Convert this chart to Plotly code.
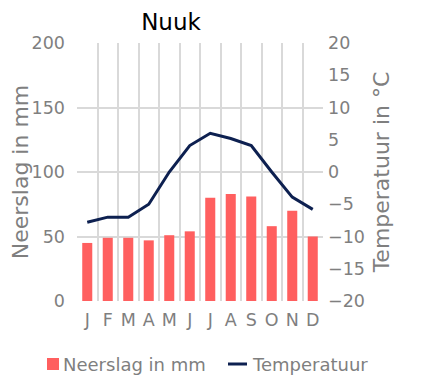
import plotly.graph_objects as go

months = ["J", "F", "M", "A", "M", "J", "J", "A", "S", "O", "N", "D"]
precip = [45, 49, 49, 47, 51, 54, 80, 83, 81, 58, 70, 50]
temp = [-7.8, -7.0, -7.0, -5.0, 0.0, 4.1, 6.0, 5.2, 4.1, 0.0, -3.9, -5.8]
left_ticks = [0, 50, 100, 150, 200]
right_ticks = [-20, -15, -10, -5, 0, 5, 10, 15, 20]
series_names = ["Neerslag in mm", "Temperatuur"]

BAR_COLOR = "#ff5f5f"
LINE_COLOR = "#0d2050"

pos = list(range(1, len(months) + 1))
bounds = [p + 0.5 for p in pos[:-1]]

FONT = "DejaVu Sans"
GRAY = "#7f7f7f"
GRID = "#d9d9d9"

# page offset (default body margin) and figure size
OFF = 8
FW, FH = 432 - OFF, 390 - OFF

# plot area in screen pixels
L, R, T, B = 77, 323, 43, 301
W, H = R - L, B - T


def px(x):
    return (x - L) / W


def py(y):
    return (B - y) / H


fig = go.Figure()
fig.add_trace(go.Bar(x=pos, y=precip, name=series_names[0],
                     marker=dict(color=BAR_COLOR, line=dict(width=0)),
                     width=0.49, yaxis="y", showlegend=False))
fig.add_trace(go.Scatter(x=pos, y=temp, name=series_names[1], mode="lines",
                         line=dict(color=LINE_COLOR, width=3), yaxis="y2",
                         showlegend=False))

legend_y = 364
shapes = [
    dict(type="rect", xref="paper", yref="paper",
         x0=px(427), x1=1.6, y0=-0.5, y1=1.3,
         fillcolor="#f1f1f1", line=dict(width=0), layer="below"),
    dict(type="rect", xref="paper", yref="paper",
         x0=px(47), x1=px(59), y0=py(legend_y + 6), y1=py(legend_y - 6),
         fillcolor=BAR_COLOR, line=dict(width=0)),
    dict(type="line", xref="paper", yref="paper",
         x0=px(228), x1=px(247), y0=py(legend_y), y1=py(legend_y),
         line=dict(color=LINE_COLOR, width=3)),
]
annotations = [
    dict(text=series_names[0], xref="paper", yref="paper", x=px(61), y=py(legend_y),
         xanchor="left", yanchor="middle", showarrow=False,
         font=dict(size=18, color=GRAY, family=FONT)),
    dict(text=series_names[1], xref="paper", yref="paper", x=px(250), y=py(legend_y),
         xanchor="left", yanchor="middle", showarrow=False,
         font=dict(size=18, color=GRAY, family=FONT)),
]

fig.update_layout(
    width=FW, height=FH,
    margin=dict(l=L - OFF, r=FW - (R - OFF), t=T - OFF, b=FH - (B - OFF), autoexpand=False),
    paper_bgcolor="white", plot_bgcolor="white",
    font=dict(family=FONT, color=GRAY, size=17),
    title=dict(text="Nuuk", font=dict(family=FONT, size=23, color="#000000"),
               xref="container", x=(171 - OFF) / FW, xanchor="center",
               yref="container", y=1 - 13.5 / FH, yanchor="middle"),
    xaxis=dict(range=[0.5, 12.5], tickvals=pos, ticktext=months, automargin=False,
               showgrid=False, zeroline=False, showline=False,
               ticks="", ticklabelstandoff=6,
               tickfont=dict(size=17.5, color=GRAY),
               minor=dict(tickvals=bounds, showgrid=True, gridcolor=GRID, gridwidth=1.5, ticks="")),
    yaxis=dict(range=[0, 200], tickvals=left_ticks, showgrid=True, gridcolor=GRID, gridwidth=1.5,
               automargin=False, zeroline=False, showline=False, ticks="", ticklabelstandoff=11,
               tickfont=dict(size=17.5, color=GRAY),
               title=dict(text="Neerslag in mm", font=dict(size=22, color=GRAY), standoff=0)),
    yaxis2=dict(range=[-20, 20], tickvals=right_ticks, overlaying="y", side="right",
                anchor="x", showgrid=False, zeroline=False, showline=False, automargin=False,
                ticks="", ticklabelstandoff=4,
                tickfont=dict(size=17.5, color=GRAY),
                title=dict(text="Temperatuur in °C", font=dict(size=22, color=GRAY), standoff=9)),
    bargap=0.5,
    shapes=shapes,
    annotations=annotations,
)

fig.write_html("out.html")
